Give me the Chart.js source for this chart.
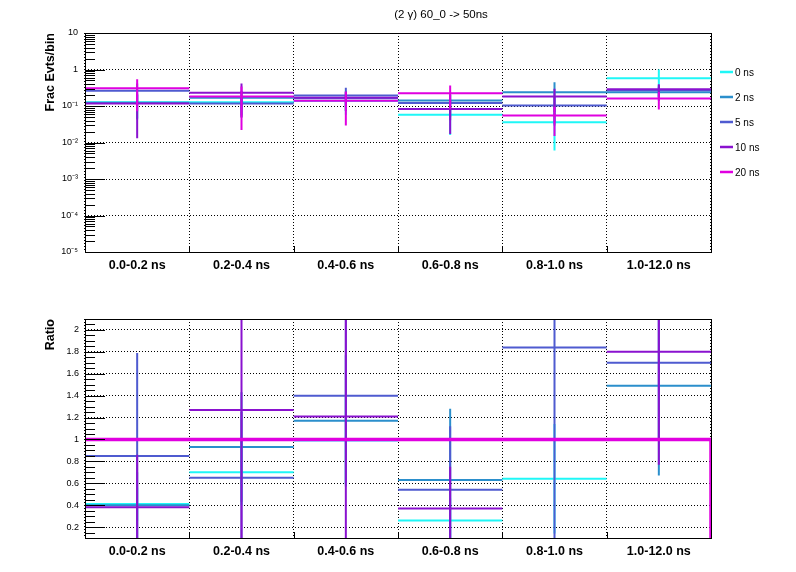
<!DOCTYPE html>
<html>
<head>
<meta charset="utf-8">
<script src="https://cdn.jsdelivr.net/npm/chart.js@4.4.1/dist/chart.umd.min.js"></script>
<style>
  body { margin: 0; background: #fff; }
  .panel { position: absolute; left: 0; width: 796px; height: 286px; }
</style>
</head>
<body>
<div class="panel" style="top:0"><canvas id="fracChart" width="796" height="286"></canvas></div>
<div class="panel" style="top:286px"><canvas id="ratioChart" width="796" height="286"></canvas></div>
<script>
// bins and series
const bins = ['0.0-0.2 ns', '0.2-0.4 ns', '0.4-0.6 ns', '0.6-0.8 ns', '0.8-1.0 ns', '1.0-12.0 ns'];
const seriesNames = ['0 ns', '2 ns', '5 ns', '10 ns', '20 ns'];
const plotTitle = '(2 \u03b3) 60_0 -> 50ns';

// fraction of events per bin (top pad)
const frac0 = [0.126, 0.127, 0.138, 0.058, 0.036, 0.578];
const frac2 = [0.123, 0.169, 0.163, 0.141, 0.239, 0.238];
const frac5 = [0.261, 0.118, 0.194, 0.121, 0.103, 0.272];
const frac10 = [0.117, 0.231, 0.168, 0.083, 0.182, 0.288];
const frac20 = [0.307, 0.182, 0.139, 0.224, 0.055, 0.160];

const fracErr0 = [0.08, 0.07, 0.08, 0.042, 0.030, 0.42];
const fracErr2 = [0.08, 0.09, 0.09, 0.09, 0.21, 0.10];
const fracErr5 = [0.15, 0.07, 0.12, 0.08, 0.07, 0.10];
const fracErr10 = [0.104, 0.18, 0.07, 0.066, 0.114, 0.105];
const fracErr20 = [0.235, 0.16, 0.11, 0.14, 0.040, 0.08];

// ratio to the 20 ns sample (bottom pad)
const ratio0 = [0.41, 0.70, 0.99, 0.26, 0.64, 3.6];
const ratio2 = [0.40, 0.93, 1.17, 0.63, 4.3, 1.49];
const ratio5 = [0.85, 0.65, 1.40, 0.54, 1.84, 1.70];
const ratio10 = [0.38, 1.27, 1.21, 0.37, 3.3, 1.80];
const ratio20 = [1, 1, 1, 1, 1, 1];

const ratioErr0 = [0.15, 0.3, 0.4, 0.2, 0.5, 1.2];
const ratioErr2 = [0.3, 0.5, 0.6, 0.65, 1.5, 0.82];
const ratioErr5 = [0.94, 0.6, 0.8, 0.58, 1.8, 0.7];
const ratioErr10 = [0.48, 1.2, 1.15, 0.38, 1.0, 1.03];

// axis ticks
const fracTicks = [1e-5, 1e-4, 1e-3, 1e-2, 1e-1, 1, 10];
const ratioTicks = [0.2, 0.4, 0.6, 0.8, 1.0, 1.2, 1.4, 1.6, 1.8, 2.0];

const colors = ['#1ff7f7', '#2b8fcc', '#4f5bd0', '#8a12cf', '#e000e0'];

Chart.defaults.font.family = '"Liberation Sans", Arial, Helvetica, sans-serif';
Chart.defaults.color = '#000';

// horizontal bin lines + vertical error bar at bin centre, gaps in between
const histPoints = (vals, errs, floor) => {
    const pts = [];
    vals.forEach((v, i) => {
        pts.push({x: i, y: v}, {x: i + 1, y: v}, {x: i + 1, y: null});
        if (errs && errs[i] > 0) {
            pts.push({x: i + 0.5, y: Math.max(v - errs[i], floor)},
                     {x: i + 0.5, y: v + errs[i]},
                     {x: i + 0.5, y: null});
        }
    });
    return pts;
};

// plain step outline (reference histogram in the ratio pad)
const outlinePoints = (vals, floor) => {
    const pts = [];
    vals.forEach((v, i) => { pts.push({x: i, y: v}, {x: i + 1, y: v}); });
    pts.push({x: vals.length, y: floor});
    return pts;
};

const supMap = {'-': '\u207b', '1': '\u00b9', '2': '\u00b2', '3': '\u00b3', '4': '\u2074', '5': '\u2075'};
const logLabel = (v) => {
    const e = Math.round(Math.log10(v));
    if (e === 1) return '10';
    if (e === 0) return '1';
    return '10' + String(e).split('').map(c => supMap[c]).join('');
};

// ROOT-like frame, inner ticks, legend and title
const rootFrame = {
    id: 'rootFrame',
    afterDatasetsDraw(chart, args, opts) {
        const {ctx, chartArea: a, scales} = chart;
        ctx.save();
        ctx.strokeStyle = '#000';
        ctx.lineWidth = 1;
        ctx.beginPath();
        for (let i = 0; i <= bins.length; i++) {
            const px = Math.round(scales.xl.getPixelForValue(i)) + 0.5;
            ctx.moveTo(px, a.bottom);
            ctx.lineTo(px, a.bottom - 6);
        }
        opts.yTicks.forEach(t => {
            const py = Math.round(scales.y.getPixelForValue(t.v)) + 0.5;
            ctx.moveTo(a.left, py);
            ctx.lineTo(a.left + t.len, py);
        });
        ctx.stroke();
        ctx.strokeRect(Math.round(a.left) + 0.5, Math.round(a.top) + 0.5,
                       Math.round(a.width), Math.round(a.height));

        if (opts.legend) {
            ctx.font = '10px "Liberation Sans", Arial, sans-serif';
            ctx.textBaseline = 'middle';
            ctx.textAlign = 'left';
            chart.data.datasets.forEach((ds, i) => {
                const y = 72 + i * 25;
                ctx.strokeStyle = ds.borderColor;
                ctx.lineWidth = 2.5;
                ctx.beginPath();
                ctx.moveTo(720, y);
                ctx.lineTo(733, y);
                ctx.stroke();
                ctx.fillStyle = '#000';
                ctx.fillText(ds.label, 735, y + 1);
            });
        }
        if (opts.title) {
            ctx.font = '11.5px "Liberation Sans", Arial, sans-serif';
            ctx.fillStyle = '#000';
            ctx.textAlign = 'center';
            ctx.textBaseline = 'middle';
            ctx.fillText(opts.title, 441, 15);
        }
        ctx.restore();
    }
};

const baseOptions = (yScale, frameOpts) => ({
    responsive: false,
    animation: false,
    events: [],
    layout: { padding: { top: 33, right: 85, bottom: 0, left: 0 } },
    plugins: { legend: { display: false }, tooltip: { enabled: false }, title: { display: false }, rootFrame: frameOpts },
    elements: { point: { radius: 0 }, line: { tension: 0, fill: false, borderCapStyle: 'butt' } },
    scales: {
        x: {
            type: 'category',
            offset: true,
            grid: { offset: true, color: '#000', lineWidth: 1, drawTicks: false },
            border: { display: false, dash: [1, 2] },
            ticks: { color: '#000', padding: 6, autoSkip: false, maxRotation: 0, font: { size: 12.5, weight: 'bold' } },
            afterFit: s => { s.height = 34; }
        },
        xl: { type: 'linear', display: false, min: 0, max: bins.length },
        y: yScale
    }
});

const yCommon = (title) => ({
    grid: { color: '#000', lineWidth: 1, drawTicks: false },
    border: { display: false, dash: [1, 2] },
    title: { display: true, text: title, align: 'end', color: '#000', font: { size: 12.5, weight: 'bold' }, padding: { top: 43, bottom: 0 } },
    afterFit: s => { s.width = 85; }
});

// minor tick lists
const logMinor = [];
for (let e = -5; e <= 0; e++) {
    for (let k = 1; k <= 9; k++) logMinor.push({v: k * Math.pow(10, e), len: k === 1 ? 20 : 10});
}
logMinor.push({v: 10, len: 20});
const linMinor = [];
for (let j = 2; j <= 42; j++) linMinor.push({v: j * 0.05, len: j % 4 === 0 ? 20 : 10});

const fracSeries = [[frac0, fracErr0], [frac2, fracErr2], [frac5, fracErr5], [frac10, fracErr10], [frac20, fracErr20]];
const ratioSeries = [[ratio0, ratioErr0], [ratio2, ratioErr2], [ratio5, ratioErr5], [ratio10, ratioErr10]];

const fracMin = 1e-5, fracMax = 10, ratioMin = 0.1, ratioMax = 2.1;

new Chart(document.getElementById('fracChart'), {
    type: 'line',
    data: {
        labels: bins,
        datasets: fracSeries.map(([v, e], i) => ({
            label: seriesNames[i],
            data: histPoints(v, e, fracMin),
            xAxisID: 'xl',
            borderColor: colors[i],
            borderWidth: 2,
            order: fracSeries.length - 1 - i
        }))
    },
    options: baseOptions(Object.assign(yCommon('Frac Evts/bin'), {
        type: 'logarithmic', min: fracMin, max: fracMax,
        afterBuildTicks: s => { s.ticks = fracTicks.map(v => ({value: v})); },
        ticks: { color: '#000', padding: 7, autoSkip: false, font: { size: 9 }, callback: v => logLabel(v) }
    }), { yTicks: logMinor, legend: true, title: plotTitle }),
    plugins: [rootFrame]
});

const ratioSets = ratioSeries.map(([v, e], i) => ({
    label: seriesNames[i],
    data: histPoints(v, e, -Infinity),
    xAxisID: 'xl',
    borderColor: colors[i],
    borderWidth: 2,
    order: 4 - i
}));
ratioSets.push({
    label: seriesNames[4],
    data: outlinePoints(ratio20, ratioMin),
    xAxisID: 'xl',
    borderColor: colors[4],
    borderWidth: 3.5,
    order: 0
});

new Chart(document.getElementById('ratioChart'), {
    type: 'line',
    data: { labels: bins, datasets: ratioSets },
    options: baseOptions(Object.assign(yCommon('Ratio'), {
        type: 'linear', min: ratioMin, max: ratioMax, bounds: 'data',
        afterBuildTicks: s => { s.ticks = ratioTicks.map(v => ({value: v})); },
        ticks: { color: '#000', padding: 6, autoSkip: false, font: { size: 9 }, callback: v => String(Number(v.toFixed(1))) }
    }), { yTicks: linMinor, legend: false, title: null }),
    plugins: [rootFrame]
});
</script>
</body>
</html>
